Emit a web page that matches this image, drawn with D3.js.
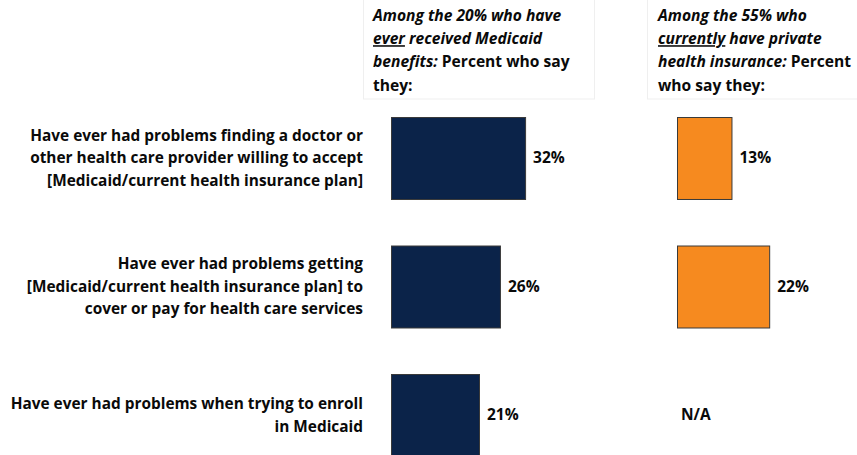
<!DOCTYPE html>
<html>
<head>
<meta charset="utf-8">
<script src="https://cdn.jsdelivr.net/npm/d3@7"></script>
<style>
  html, body { margin: 0; padding: 0; background: #fff; }
  svg { display: block; font-family: "Open Sans", Lato, sans-serif; }
</style>
</head>
<body>
<svg id="chart" width="857" height="455"></svg>
<script>
// Survey items (row labels, already split into lines)
const categories = ["finding", "covering", "enrolling"];
const categoryLines = [
  ["Have ever had problems finding a doctor or",
   "other health care provider willing to accept",
   "[Medicaid/current health insurance plan]"],
  ["Have ever had problems getting",
   "[Medicaid/current health insurance plan] to",
   "cover or pay for health care services"],
  ["Have ever had problems when trying to enroll",
   "in Medicaid"]
];

// Percent who say they have had each problem
const medicaidValues = [32, 26, 21];
const privateValues = [13, 22, null];   // enrollment question not asked of private plans

// Panel headers: each line is a list of [text, style] runs
const medicaidHeader = [
  [["Among the 20% who have", "bi"]],
  [["ever", "biu"], [" received Medicaid", "bi"]],
  [["benefits:", "bi"], [" Percent who say", "b"]],
  [["they:", "b"]]
];
const privateHeader = [
  [["Among the 55% who", "bi"]],
  [["currently", "biu"], [" have private", "bi"]],
  [["health insurance:", "bi"], [" Percent", "b"]],
  [["who say they:", "b"]]
];

const navy = "#0b2349";
const orange = "#f68a1f";
const ink = "#0a0a0a";

const svg = d3.select("#chart");

const y = d3.scaleBand()
  .domain(categories)
  .range([117, 456])
  .paddingInner(0.362)
  .paddingOuter(0);

const x = d3.scaleLinear().domain([0, 100]).range([0, 419]);

const panels = [
  { x0: 391, values: medicaidValues, color: navy, header: medicaidHeader, hx: 363, hw: 231, tx: 373 },
  { x0: 677, values: privateValues, color: orange, header: privateHeader, hx: 647, hw: 230, tx: 658 }
];

// Header boxes
panels.forEach(p => {
  svg.append("rect")
    .attr("x", p.hx + 0.5).attr("y", -1)
    .attr("width", p.hw).attr("height", 100)
    .attr("fill", "#fff")
    .attr("stroke", "#efefef")
    .attr("stroke-width", 1);

  const t = svg.append("text")
    .attr("font-size", 15.6)
    .attr("font-weight", 700)
    .attr("fill", ink);
  p.header.forEach((line, i) => {
    line.forEach((run, j) => {
      const ts = t.append("tspan")
        .text(run[0])
        .attr("font-style", run[1].includes("i") ? "italic" : "normal")
        .attr("text-decoration", run[1].includes("u") ? "underline" : null)
        .style("white-space", "pre");
      if (j === 0) ts.attr("x", p.tx).attr("y", 21 + i * 23.2);
    });
  });
});

// Row labels
categories.forEach((c, i) => {
  const lines = categoryLines[i];
  const cy = y(c) + y.bandwidth() / 2;
  const lh = 22.4;
  const t = svg.append("text")
    .attr("text-anchor", "end")
    .attr("font-size", 15.4)
    .attr("font-weight", 700)
    .attr("fill", ink);
  lines.forEach((ln, k) => {
    t.append("tspan")
      .attr("x", 363)
      .attr("y", cy + (k - (lines.length - 1) / 2) * lh)
      .attr("dy", "0.35em")
      .text(ln);
  });
});

// Bars and value labels
panels.forEach(p => {
  const g = svg.append("g");
  categories.forEach((c, i) => {
    const v = p.values[i];
    const cy = y(c) + y.bandwidth() / 2;
    if (v == null) {
      g.append("text")
        .attr("x", p.x0 + 4).attr("y", cy)
        .attr("dy", "0.35em")
        .attr("font-size", 15.5).attr("font-weight", 700)
        .attr("fill", ink)
        .text("N/A");
      return;
    }
    g.append("rect")
      .attr("x", p.x0 + 0.5)
      .attr("y", y(c) + 0.5)
      .attr("width", x(v))
      .attr("height", y.bandwidth())
      .attr("fill", p.color)
      .attr("stroke", "#3a3a3a")
      .attr("stroke-width", 1);
    g.append("text")
      .attr("x", p.x0 + x(v) + 8)
      .attr("y", cy)
      .attr("dy", "0.35em")
      .attr("font-size", 15.5).attr("font-weight", 700)
      .attr("fill", ink)
      .text(v + "%");
  });
});
</script>
</body>
</html>
